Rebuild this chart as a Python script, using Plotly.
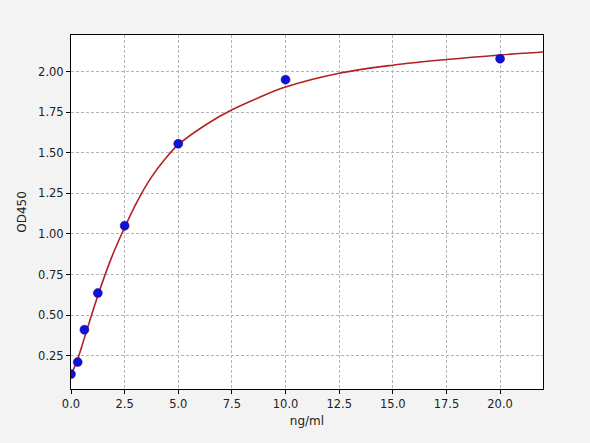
import plotly.graph_objects as go

# standards (measured points)
conc = [0, 0.3125, 0.625, 1.25, 2.5, 5, 10, 20]
od450 = [0.137, 0.211, 0.41, 0.636, 1.051, 1.556, 1.951, 2.08]

# fitted curve
fit_x = [0, 0.3125, 0.625, 1.25, 1.875, 2.5, 3.125, 3.75, 4.375, 5, 6.25, 7.5, 8.75, 10, 12.5, 15, 17.5, 20, 22]
fit_y = [0.13, 0.23, 0.36, 0.62, 0.85, 1.04, 1.21, 1.35, 1.46, 1.55, 1.67, 1.765, 1.84, 1.905, 1.99, 2.04, 2.075, 2.103, 2.121]

x_ticks = [0, 2.5, 5, 7.5, 10, 12.5, 15, 17.5, 20]
y_ticks = [0.25, 0.5, 0.75, 1.0, 1.25, 1.5, 1.75, 2.0]

fig = go.Figure()
fig.add_trace(go.Scatter(x=fit_x, y=fit_y, mode="lines", line_shape="spline",
                         line=dict(color="#b22222", width=1.6), hoverinfo="skip"))
fig.add_trace(go.Scatter(x=conc, y=od450, mode="markers",
                         marker=dict(color="#1010d8", size=9, line=dict(color="#0a0a99", width=0.5))))

axis_style = dict(
    showline=True, linecolor="black", linewidth=1, mirror=True,
    showgrid=True, gridcolor="#b4b4b4", griddash="3px,2px", gridwidth=0.9,
    ticks="outside", ticklen=4, tickcolor="black", zeroline=False,
    tickfont=dict(family="DejaVu Sans", size=11.5, color="#222"),
)

fig.update_xaxes(range=[0, 22], tickvals=x_ticks, ticktext=[f"{v:.1f}" for v in x_ticks],
                 title=dict(text="ng/ml", font=dict(family="DejaVu Sans", size=12, color="#222"), standoff=6),
                 **axis_style)
fig.update_yaxes(range=[0.045, 2.226], tickvals=y_ticks, ticktext=[f"{v:.2f}" for v in y_ticks],
                 title=dict(text="OD450", font=dict(family="DejaVu Sans", size=12, color="#222"), standoff=8),
                 **axis_style)

fig.update_layout(
    width=590, height=443,
    margin=dict(l=71, r=47, t=35, b=54),
    paper_bgcolor="#f3f3f3", plot_bgcolor="white",
    showlegend=False,
)

# drop the page's default body margin so the figure sits at the corner
fig.write_html("out.html", config={"displayModeBar": False},
               post_script="document.body.style.margin='0';")
